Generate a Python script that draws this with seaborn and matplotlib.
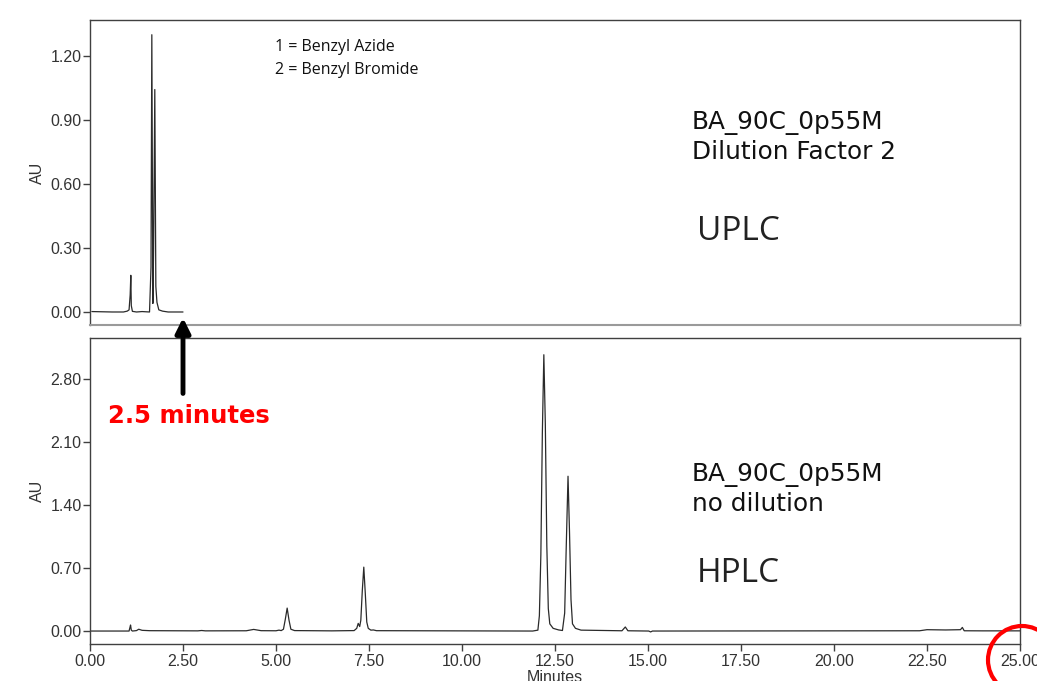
import matplotlib
matplotlib.use("Agg")
import matplotlib.pyplot as plt
from matplotlib.patches import Ellipse
from matplotlib.ticker import FormatStrFormatter
import seaborn as sns

# UPLC trace (minutes, AU)
uplc_time = [0.05, 0.6, 0.9, 1.0, 1.05, 1.08, 1.097, 1.11, 1.14, 1.25, 1.4, 1.6, 1.64,
             1.662, 1.69, 1.71, 1.742, 1.77, 1.80, 1.85, 1.95, 2.1, 2.5]
uplc_au = [0.002, 0.0, 0.0, 0.004, 0.01, 0.08, 0.172, 0.03, 0.003, 0.0, 0.002, 0.0, 0.21,
           1.30, 0.04, 0.30, 1.043, 0.12, 0.045, 0.01, 0.004, 0.0, 0.0]

# HPLC trace (minutes, AU)
hplc_time = [0.0, 0.9, 1.05, 1.08, 1.09, 1.11, 1.14, 1.25, 1.31, 1.4, 1.6, 2.9, 3.0, 3.1,
             4.2, 4.4, 4.6, 5.0, 5.08, 5.14, 5.2, 5.25, 5.3, 5.35, 5.4, 5.5, 6.5,
             7.1, 7.17, 7.21, 7.25, 7.28, 7.32, 7.36, 7.40, 7.44, 7.48, 7.55, 7.62, 7.7,
             11.9, 12.04, 12.08, 12.12, 12.16, 12.2, 12.24, 12.28, 12.32, 12.36, 12.45,
             12.6, 12.7, 12.76, 12.8, 12.85, 12.89, 12.93, 12.97, 13.05, 13.2,
             14.3, 14.39, 14.46, 15.02, 15.07, 15.12, 22.3, 22.5, 23.0, 23.4, 23.45,
             23.5, 24.0, 25.0]
hplc_au = [0.0, 0.0, 0.0, 0.05, 0.067, 0.01, 0.0, 0.005, 0.02, 0.008, 0.004, 0.002, 0.006, 0.002,
           0.003, 0.018, 0.004, 0.003, 0.01, 0.005, 0.02, 0.13, 0.255, 0.12, 0.02, 0.005, 0.002,
           0.005, 0.03, 0.085, 0.05, 0.12, 0.45, 0.71, 0.42, 0.10, 0.03, 0.01, 0.012, 0.004,
           0.0, 0.01, 0.17, 0.85, 2.2, 3.07, 2.3, 0.95, 0.25, 0.08, 0.03,
           0.012, 0.006, 0.2, 0.9, 1.72, 1.1, 0.35, 0.08, 0.03, 0.01,
           0.003, 0.045, 0.003, 0.0, -0.01, 0.0, 0.003, 0.015, 0.012, 0.015, 0.04,
           0.003, 0.002, 0.002]

x_ticks = [0, 2.5, 5, 7.5, 10, 12.5, 15, 17.5, 20, 22.5, 25]
uplc_yticks = [0.0, 0.3, 0.6, 0.9, 1.2]
hplc_yticks = [0.0, 0.7, 1.4, 2.1, 2.8]

W, H = 1037, 681
sns.set_theme(style="white")
plt.rcParams['font.family'] = ['Liberation Sans', 'DejaVu Sans']
plt.rcParams['axes.edgecolor'] = '#404040'
plt.rcParams['xtick.color'] = '#404040'
plt.rcParams['ytick.color'] = '#404040'


def fx(x):
    return x / W


def fy(y):
    return 1 - y / H


fig = plt.figure(figsize=(W / 100, H / 100), dpi=100)
ax1 = fig.add_axes([fx(90), fy(325), fx(1020) - fx(90), fy(20) - fy(325)])
ax2 = fig.add_axes([fx(90), fy(644), fx(1020) - fx(90), fy(338) - fy(644)])

line_col = '#2a2a2a'
sns.lineplot(x=uplc_time, y=uplc_au, ax=ax1, color=line_col, linewidth=0.9, estimator=None)
sns.lineplot(x=hplc_time, y=hplc_au, ax=ax2, color=line_col, linewidth=0.9, estimator=None)

for ax in (ax1, ax2):
    ax.set_xlim(0, 25)
    ax.set_xticks(x_ticks)
    for s in ax.spines.values():
        s.set_linewidth(1.0)
    ax.tick_params(axis='y', direction='out', length=5, width=1, left=True,
                   labelsize=11.5, labelcolor='#333333', pad=1)
    ax.yaxis.set_major_formatter(FormatStrFormatter('%.2f'))
    ax.set_ylabel("AU", fontsize=11.5, color='#333333', labelpad=4)

ax1.set_ylim(-0.061, 1.369)
ax1.set_yticks(uplc_yticks)
ax1.tick_params(axis='x', bottom=False, labelbottom=False)
ax1.spines['bottom'].set_color('#9a9a9a')
ax1.spines['bottom'].set_linewidth(1.5)

ax2.set_ylim(-0.144, 3.256)
ax2.set_yticks(hplc_yticks)
ax2.tick_params(axis='x', direction='out', length=5, width=1, bottom=True,
                labelsize=11.5, labelcolor='#333333', pad=2)
ax2.xaxis.set_major_formatter(FormatStrFormatter('%.2f'))
ax2.set_xlabel("Minutes", fontsize=11.5, color='#333333', labelpad=1)

# legend text in upper panel
fig.text(fx(275), fy(47), "1 = Benzyl Azide", fontsize=11.5, family='Open Sans',
         va='center', color='#111111')
fig.text(fx(275), fy(70), "2 = Benzyl Bromide", fontsize=11.5, family='Open Sans',
         va='center', color='#111111')

fig.text(fx(692), fy(123), "BA_90C_0p55M", fontsize=17.8, family='DejaVu Sans', va='center', color='#111111')
fig.text(fx(692), fy(152), "Dilution Factor 2", fontsize=17.8, family='DejaVu Sans', va='center', color='#111111')
fig.text(fx(697), fy(232), "UPLC", fontsize=24, family='Open Sans', va='center', color='#222222')

fig.text(fx(692), fy(475), "BA_90C_0p55M", fontsize=17.8, family='DejaVu Sans', va='center', color='#111111')
fig.text(fx(692), fy(504), "no dilution", fontsize=17.8, family='DejaVu Sans', va='center', color='#111111')
fig.text(fx(697), fy(574), "HPLC", fontsize=24, family='Open Sans', va='center', color='#222222')

# 2.5 minute marker
ax2.annotate("", xy=(2.5, 3.48), xytext=(2.5, 2.64),
             arrowprops=dict(arrowstyle="-|>", lw=3.5, color='black', mutation_scale=22,
                             shrinkA=0, shrinkB=0),
             annotation_clip=False)
fig.text(fx(108), fy(416), "2.5 minutes", fontsize=17.5, fontweight='bold',
         family='DejaVu Sans', va='center', color='#ff0000')

circ = Ellipse((fx(1022), fy(660)), 2 * 34 / W, 2 * 34 / H, transform=fig.transFigure,
               fill=False, edgecolor='#ff0000', linewidth=3)
fig.add_artist(circ)

fig.savefig("out.png", dpi=100)
